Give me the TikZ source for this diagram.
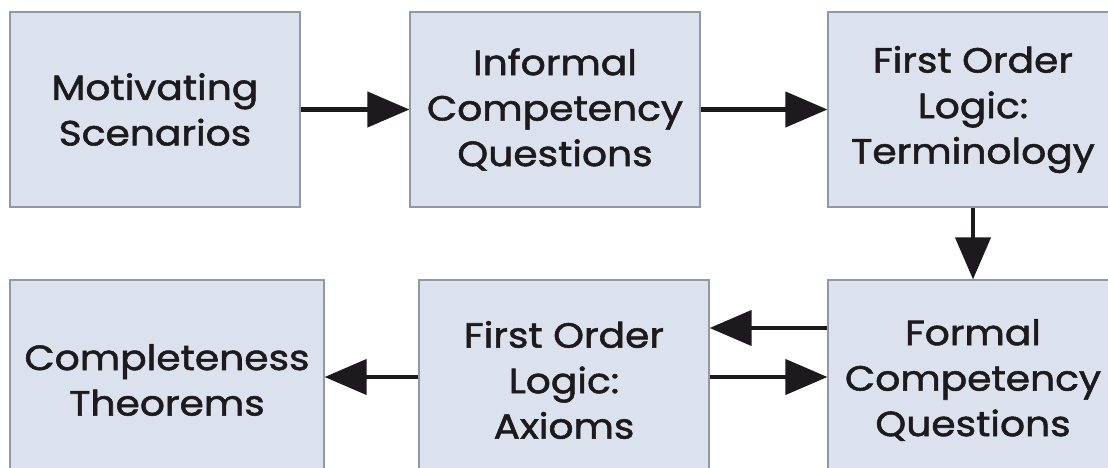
\documentclass[tikz,border=0pt]{standalone}
\usepackage{fontspec}
\setmainfont{Poppins}[FakeBold=1.6, FakeStretch=1.12]
\usetikzlibrary{arrows.meta}
\definecolor{boxfill}{RGB}{219,226,237}
\definecolor{boxline}{RGB}{145,153,166}
\definecolor{ink}{RGB}{28,26,28}
\begin{document}
\begin{tikzpicture}[x=1pt,y=-1pt,
  box/.style={draw=boxline, line width=1.2pt, fill=boxfill, minimum width=290pt,
    inner sep=0pt, align=center, font=\fontsize{35}{45.5}\selectfont, text=ink},
  flow/.style={line width=4.2pt, draw=ink, -{Triangle[length=42pt,width=35pt]}}]
\useasboundingbox (0,0) rectangle (1108,468);
\clip (0,0) rectangle (1108,468);
\fill[white] (0,0) rectangle (1108,468);
\node[box, minimum height=195pt] (b1) at (155,109.5) {Motivating\\Scenarios};
\node[box, minimum height=195pt] (b2) at (555,109.5) {Informal\\Competency\\Questions};
\node[box, minimum height=195pt] (b3) at (973,109.5) {First Order\\Logic:\\Terminology};
\node[box, minimum height=200pt, minimum width=314pt] (b4) at (167,380) {Completeness\\Theorems};
\node[box, minimum height=200pt] (b5) at (564,380) {First Order\\Logic:\\Axioms};
\node[box, minimum height=200pt] (b6) at (973,380) {Formal\\Competency\\Questions};
\draw[flow] (b1.east) -- (b2.west);
\draw[flow] (b2.east) -- (b3.west);
\draw[flow] (b3.south) -- (b6.north);
\draw[flow] (b6.west |- 0,328) -- (b5.east |- 0,328);
\draw[flow] (b5.east |- 0,377) -- (b6.west |- 0,377);
\draw[flow] (b5.west |- 0,377) -- (b4.east |- 0,377);
\end{tikzpicture}
\end{document}
